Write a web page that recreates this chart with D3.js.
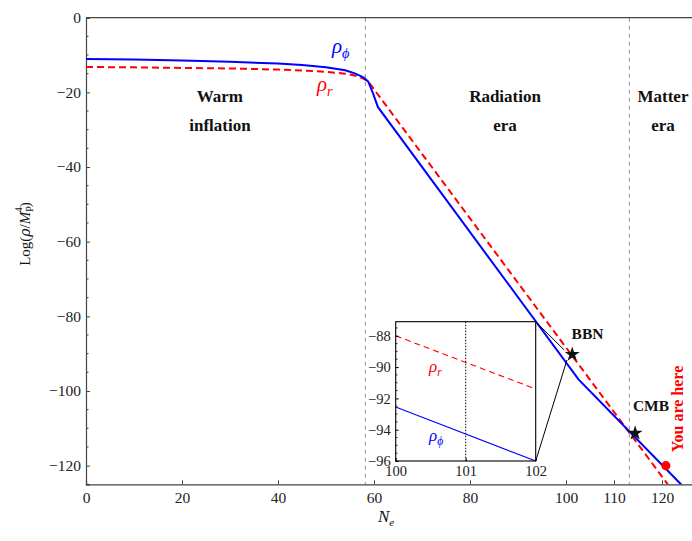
<!DOCTYPE html>
<html>
<head>
<meta charset="utf-8">
<script src="https://cdn.jsdelivr.net/npm/d3@7/dist/d3.min.js"></script>
<style>
  html, body { margin: 0; padding: 0; background: #fff; }
  svg { display: block; }
  text { font-family: "Liberation Serif", "DejaVu Serif", serif; }
</style>
</head>
<body>
<svg id="chart" width="692" height="541"></svg>
<script>
// ---------- data ----------
const blueN = [0, 10, 20, 30, 40, 45, 50, 54, 56, 57.8, 58.8, 59.8, 60.8, 102.6, 124.1];
const blueV = [-11.06, -11.2, -11.45, -11.8, -12.3, -12.7, -13.3, -14.1, -14.9, -16.0, -17.1, -20.3, -23.9, -96.9, -125.2];
const redN = [0, 10, 20, 30, 40, 45, 50, 54, 56, 57.8, 58.8, 121.2];
const redV = [-13.2, -13.3, -13.45, -13.6, -13.9, -14.15, -14.5, -15.0, -15.5, -16.3, -17.1, -125];
const eraBounds = [58.2, 113.2];
const xTicks = [0, 20, 40, 60, 80, 100, 110, 120];
const yTicks = [0, -20, -40, -60, -80, -100, -120];
const eraLabels = [
  { lines: ["Warm", "inflation"], N: 27.9 },
  { lines: ["Radiation", "era"], N: 87.3 },
  { lines: ["Matter", "era"], N: 120.2 }
];
const events = [
  { name: "BBN", N: 101.3, V: -90.2 },
  { name: "CMB", N: 114.4, V: -111.3 }
];
const hereN = 120.8, hereV = -120.0;
// inset
const insetN = [100, 102];
const insetRedV = [-88.0, -91.4];
const insetBlueV = [-92.55, -96.0];
const insetXTicks = [100, 101, 102];
const insetYTicks = [-88, -90, -92, -94, -96];
const zoomTargets = [[99.6, -89.0], [100.2, -91.7]];

// ---------- layout ----------
const svg = d3.select("#chart");
const x = d3.scaleLinear().domain([0, 126.25]).range([86, 692]);
const y = d3.scaleLinear().domain([-125, 0]).range([484.3, 17.7]);
const axisColor = "#444";
const greek = "'DejaVu Serif', serif";

svg.append("defs").append("clipPath").attr("id", "plotclip")
  .append("rect").attr("x", 86).attr("y", 17.7).attr("width", 606).attr("height", 484.3 - 17.7);

// era separators
svg.selectAll("line.era").data(eraBounds).join("line")
  .attr("x1", d => x(d)).attr("x2", d => x(d))
  .attr("y1", y(0)).attr("y2", y(-125))
  .attr("stroke", "#999").attr("stroke-width", 1.1).attr("stroke-dasharray", "4,4");

// frame
svg.append("line").attr("x1", 86).attr("x2", 692).attr("y1", y(0)).attr("y2", y(0))
  .attr("stroke", axisColor).attr("stroke-width", 1.2);

// axes
const xAxis = d3.axisBottom(x).tickValues(xTicks).tickSize(-4).tickPadding(8).tickFormat(d3.format("d"));
const gx = svg.append("g").attr("transform", `translate(0,${y(-125)})`).call(xAxis);
gx.select(".domain").attr("stroke", axisColor).attr("stroke-width", 1.2);
gx.selectAll(".tick line").attr("stroke", axisColor);
gx.selectAll("text").attr("font-size", 15.5).attr("fill", "#222").attr("font-family", "Liberation Serif");

const yMinor = d3.range(-125, 0.1, 5).filter(v => v % 20 !== 0);
svg.append("g").selectAll("line").data(yMinor).join("line")
  .attr("x1", 86).attr("x2", 88.5).attr("y1", d => y(d)).attr("y2", d => y(d))
  .attr("stroke", axisColor).attr("stroke-width", 1);
const fmtMinus = d => d < 0 ? "\u2212" + Math.abs(d) : String(d);
const yAxis = d3.axisLeft(y).tickValues(yTicks).tickSize(-4).tickPadding(5).tickFormat(fmtMinus);
const gy = svg.append("g").attr("transform", `translate(86,0)`).call(yAxis);
gy.select(".domain").attr("stroke", axisColor).attr("stroke-width", 1.2);
gy.selectAll(".tick line").attr("stroke", axisColor);
gy.selectAll("text").attr("font-size", 15.5).attr("fill", "#222").attr("font-family", "Liberation Serif");

// curves
const line = d3.line().x(d => x(d[0])).y(d => y(d[1])).curve(d3.curveLinear);
const plot = svg.append("g").attr("clip-path", "url(#plotclip)");
plot.append("path").datum(redN.map((n, i) => [n, redV[i]]))
  .attr("d", line).attr("fill", "none").attr("stroke", "#f00")
  .attr("stroke-width", 2).attr("stroke-dasharray", "7,4");
plot.append("path").datum(blueN.map((n, i) => [n, blueV[i]]))
  .attr("d", line)
  .attr("fill", "none").attr("stroke", "#00f").attr("stroke-width", 2);

// era labels
eraLabels.forEach(e => {
  e.lines.forEach((t, i) => {
    svg.append("text").attr("x", x(e.N)).attr("y", 101.5 + i * 29)
      .attr("text-anchor", "middle").attr("font-size", 17).attr("font-weight", "bold")
      .attr("fill", "#111").text(t);
  });
});

// curve labels
function rhoLabel(xp, yp, sub, color, size) {
  const t = svg.append("text").attr("x", xp).attr("y", yp).attr("font-size", size).attr("fill", color)
    .attr("font-style", "italic").attr("font-family", greek);
  t.append("tspan").text("ρ");
  t.append("tspan").attr("font-size", size * 0.68).attr("dy", size * 0.22).text(sub);
  return t;
}
rhoLabel(332, 53, "ϕ", "#00f", 21);
rhoLabel(317, 91, "r", "#f00", 21);

// inset
const ix = d3.scaleLinear().domain([100, 102]).range([395.7, 535.7]);
const iy = d3.scaleLinear().domain([-96, -87.1]).range([461, 321.7]);
// zoom connector lines
svg.append("line").attr("x1", ix(102)).attr("y1", iy(-87.1))
  .attr("x2", x(zoomTargets[0][0])).attr("y2", y(zoomTargets[0][1]))
  .attr("stroke", "#000").attr("stroke-width", 1);
svg.append("line").attr("x1", ix(102)).attr("y1", iy(-96))
  .attr("x2", x(zoomTargets[1][0])).attr("y2", y(zoomTargets[1][1]))
  .attr("stroke", "#000").attr("stroke-width", 1);

const inset = svg.append("g");
inset.append("rect").attr("x", ix(100)).attr("y", iy(-87.1))
  .attr("width", ix(102) - ix(100)).attr("height", iy(-96) - iy(-87.1))
  .attr("fill", "#fff").attr("stroke", "none");
inset.append("line").attr("x1", ix(101)).attr("x2", ix(101)).attr("y1", iy(-87.1)).attr("y2", iy(-96))
  .attr("stroke", "#000").attr("stroke-width", 1).attr("stroke-dasharray", "1.5,1.5");
const iline = d3.line().x(d => ix(d[0])).y(d => iy(d[1]));
inset.append("path").datum(insetN.map((n, i) => [n, insetRedV[i]])).attr("d", iline)
  .attr("stroke", "#f00").attr("stroke-width", 1.1).attr("stroke-dasharray", "6,4").attr("fill", "none");
inset.append("path").datum(insetN.map((n, i) => [n, insetBlueV[i]])).attr("d", iline)
  .attr("stroke", "#00f").attr("stroke-width", 1.1).attr("fill", "none");
inset.append("rect").attr("x", ix(100)).attr("y", iy(-87.1))
  .attr("width", ix(102) - ix(100)).attr("height", iy(-96) - iy(-87.1))
  .attr("fill", "none").attr("stroke", "#000").attr("stroke-width", 1.1);
const gix = inset.append("g").attr("transform", `translate(0,${iy(-96)})`)
  .call(d3.axisBottom(ix).tickValues(insetXTicks).tickSize(-3).tickPadding(5).tickFormat(d3.format("d")));
gix.select(".domain").remove();
gix.selectAll("text").attr("font-size", 14.5).attr("fill", "#222").attr("font-family", "Liberation Serif");
const giy = inset.append("g").attr("transform", `translate(${ix(100)},0)`)
  .call(d3.axisLeft(iy).tickValues(insetYTicks).tickSize(-3).tickPadding(5).tickFormat(fmtMinus));
giy.select(".domain").remove();
giy.selectAll("text").attr("font-size", 14.5).attr("fill", "#222").attr("font-family", "Liberation Serif");
const iyMinor = d3.range(-96, -87, 0.5).filter(v => v % 2 !== 0);
inset.append("g").selectAll("line").data(iyMinor).join("line")
  .attr("x1", ix(100)).attr("x2", ix(100) + 1.8).attr("y1", d => iy(d)).attr("y2", d => iy(d))
  .attr("stroke", "#000").attr("stroke-width", 0.8);
rhoLabel(429, 372, "r", "#f00", 17);
rhoLabel(429, 441, "ϕ", "#00f", 17);

// events
const star = d3.symbol().type(d3.symbolStar).size(70);
events.forEach(ev => {
  svg.append("path").attr("d", star).attr("transform", `translate(${x(ev.N)},${y(ev.V)})`).attr("fill", "#111");
});
svg.append("text").attr("x", 587.5).attr("y", 338.5).attr("text-anchor", "middle")
  .attr("font-size", 15.5).attr("font-weight", "bold").attr("fill", "#111").text(events[0].name);
svg.append("text").attr("x", 651).attr("y", 410.5).attr("text-anchor", "middle")
  .attr("font-size", 15.5).attr("font-weight", "bold").attr("fill", "#111").text(events[1].name);

svg.append("circle").attr("cx", x(hereN)).attr("cy", y(hereV)).attr("r", 4.6).attr("fill", "#f00");
svg.append("text").attr("transform", "translate(683,409) rotate(-90)").attr("text-anchor", "middle")
  .attr("font-size", 16).attr("font-weight", "bold").attr("fill", "#f00").text("You are here");

// axis titles
const yl = svg.append("text").attr("transform", "translate(30,234) rotate(-90)")
  .attr("text-anchor", "middle").attr("font-size", 15).attr("fill", "#111");
yl.append("tspan").text("Log(");
yl.append("tspan").attr("font-style", "italic").attr("font-family", greek).attr("font-size", 14).text("ρ");
yl.append("tspan").text("/");
yl.append("tspan").attr("font-style", "italic").text("M");
yl.append("tspan").attr("font-size", 10).attr("dy", 3).text("P");
yl.append("tspan").attr("font-size", 10).attr("dx", -6).attr("dy", -11).text("4");
yl.append("tspan").attr("dy", 8).text(")");

const xl = svg.append("text").attr("x", 378).attr("y", 522).attr("font-size", 17)
  .attr("font-style", "italic").attr("fill", "#111");
xl.append("tspan").text("N");
xl.append("tspan").attr("font-size", 11).attr("dy", 4).text("e");
</script>
</body>
</html>
